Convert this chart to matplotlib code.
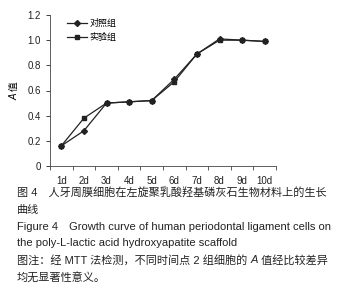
import matplotlib
matplotlib.use('Agg')
import matplotlib.pyplot as plt
import numpy as np

plt.rcParams['font.family'] = ['Liberation Sans', 'Noto Sans CJK SC', 'DejaVu Sans']

days = ['1d', '2d', '3d', '4d', '5d', '6d', '7d', '8d', '9d', '10d']
control = [0.16, 0.28, 0.50, 0.51, 0.52, 0.69, 0.89, 1.01, 1.00, 0.99]
experiment = [0.16, 0.38, 0.50, 0.51, 0.52, 0.67, 0.89, 1.00, 1.00, 0.99]
yticks = [0, 0.2, 0.4, 0.6, 0.8, 1.0, 1.2]
ytick_labels = ['0', '0.2', '0.4', '0.6', '0.8', '1.0', '1.2']

fig = plt.figure(figsize=(3.49, 2.98), dpi=100)
ax = fig.add_axes([50/349, (298-166)/298, 226/349, 151/298])

x = np.arange(len(days))
ax.plot(x, control, color='#222222', lw=0.9, marker='D', ms=3, label='对照组')
ax.plot(x, experiment, color='#222222', lw=0.9, marker='s', ms=3.5, label='实验组')

ax.set_xlim(-0.5, len(days) - 0.5)
ax.set_ylim(0, 1.2)
ax.set_yticks(yticks)
ax.set_yticklabels(ytick_labels)
ax.set_xticks(x)
ax.set_xticklabels(days)
ax.set_xticks(np.arange(len(days) + 1) - 0.5, minor=True)
ax.tick_params(axis='x', which='major', length=0, pad=7, labelsize=7, colors='#222222')
ax.tick_params(axis='x', which='minor', length=3, width=0.6, color='#444444')
ax.tick_params(axis='y', length=3, width=0.6, labelsize=7, colors='#222222')
for s in ['top', 'right']:
    ax.spines[s].set_visible(False)
for s in ['left', 'bottom']:
    ax.spines[s].set_linewidth(0.6)
    ax.spines[s].set_color('#444444')

# y label in one text: italic A, CJK glyph falls back to upright Noto
ax.set_ylabel('A 值', fontsize=7, style='italic', labelpad=6)

ax.legend(loc='upper left', bbox_to_anchor=(0.04, 1.03), frameon=False, fontsize=6.5,
          handlelength=2.2, handletextpad=0.3, labelspacing=0.6)

cap = dict(fontsize=8, color='#222222', ha='left', va='center')
fig.text(17/349, 1 - 193/298, '图 4　人牙周膜细胞在左旋聚乳酸羟基磷灰石生物材料上的生长', **cap)
fig.text(17/349, 1 - 210/298, '曲线', **cap)
fig.text(17/349, 1 - 227/298, 'Figure 4　Growth curve of human periodontal ligament cells on', **cap)
fig.text(17/349, 1 - 243/298, 'the poly-L-lactic acid hydroxyapatite scaffold', **cap)
fig.text(17/349, 1 - 277/298, '均无显著性意义。', **cap)

fig.canvas.draw()
r = fig.canvas.get_renderer()
W = fig.bbox.width

# note line with italic A, built from three pieces
y5 = 1 - 260/298
t1 = fig.text(17/349, y5, '图注：经 MTT 法检测，不同时间点 2 组细胞的 ', **cap)
bb = t1.get_window_extent(r)
t2 = fig.text(bb.x1 / W, y5, 'A', style='italic', **cap)
bb = t2.get_window_extent(r)
fig.text(bb.x1 / W, y5, ' 值经比较差异', **cap)

fig.savefig('out.png', dpi=100)
